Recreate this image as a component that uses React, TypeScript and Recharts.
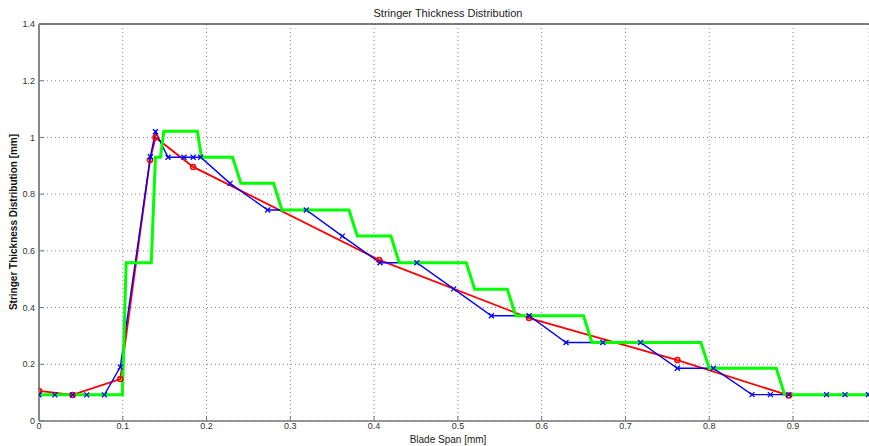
import React from 'react';
import { LineChart, Line, XAxis, YAxis, CartesianGrid } from 'recharts';

// red: interpolated distribution (circle markers)
const redX = [0, 0.04, 0.097, 0.1325, 0.139, 0.184, 0.406, 0.585, 0.762, 0.895];
const redY = [0.106, 0.092, 0.148, 0.92, 1.0, 0.896, 0.568, 0.363, 0.215, 0.09];

// blue: stringer values (x markers)
const blueX = [
  0, 0.019, 0.04, 0.057, 0.078, 0.097, 0.133, 0.139, 0.154, 0.173, 0.184, 0.193, 0.228, 0.273,
  0.319, 0.362, 0.407, 0.451, 0.495, 0.54, 0.585, 0.629, 0.673, 0.718, 0.762, 0.805, 0.851,
  0.873, 0.895, 0.94, 0.962, 0.99,
];
const blueY = [
  0.092, 0.092, 0.092, 0.092, 0.092, 0.19, 0.932, 1.02, 0.93, 0.93, 0.93, 0.93, 0.838, 0.744,
  0.744, 0.652, 0.558, 0.558, 0.466, 0.371, 0.371, 0.277, 0.277, 0.277, 0.186, 0.186, 0.093,
  0.093, 0.093, 0.093, 0.093, 0.093,
];

// green: ply-drop staircase
const greenX = [
  0, 0.0995, 0.104, 0.134, 0.139, 0.145, 0.149, 0.189, 0.194, 0.231, 0.241, 0.28, 0.29, 0.37,
  0.38, 0.42, 0.43, 0.51, 0.52, 0.559, 0.569, 0.65, 0.66, 0.79, 0.8, 0.88, 0.89, 0.99,
];
const greenY = [
  0.093, 0.093, 0.558, 0.558, 0.93, 0.93, 1.022, 1.022, 0.93, 0.93, 0.838, 0.838, 0.744, 0.744,
  0.652, 0.652, 0.558, 0.558, 0.465, 0.465, 0.371, 0.371, 0.277, 0.277, 0.186, 0.186, 0.093,
  0.093,
];

const xTicks = [0, 0.1, 0.2, 0.3, 0.4, 0.5, 0.6, 0.7, 0.8, 0.9];
const yTicks = [0, 0.2, 0.4, 0.6, 0.8, 1, 1.2, 1.4];

const toPts = (xs: number[], ys: number[]) => xs.map((x, i) => ({ x, y: ys[i] }));
const red = toPts(redX, redY);
const blue = toPts(blueX, blueY);
const green = toPts(greenX, greenY);

const CrossDot = (props: any) => {
  const { cx, cy } = props;
  if (cx == null || cy == null) return null;
  const s = 2.5;
  return (
    <g stroke="#0000ff" strokeWidth={1.3}>
      <line x1={cx - s} y1={cy - s} x2={cx + s} y2={cy + s} />
      <line x1={cx - s} y1={cy + s} x2={cx + s} y2={cy - s} />
    </g>
  );
};

const font = 'Liberation Sans, Arial, sans-serif';
const tickStyle = { fontSize: 9, fill: '#333', fontFamily: font };

export default function App() {
  return (
    <div style={{ position: 'absolute', left: 0, top: 0, width: 869, height: 446, background: '#fff' }}>
      <LineChart width={869} height={446} margin={{ top: 0, right: 0, bottom: 0, left: 0 }}>
        <CartesianGrid xAxisId="b" stroke="#888" strokeDasharray="1 3" />
        <XAxis
          xAxisId="b"
          type="number"
          dataKey="x"
          domain={[0, 0.9907]}
          allowDataOverflow
          ticks={xTicks}
          tickFormatter={(v) => String(v)}
          tick={tickStyle}
          tickSize={-5}
          tickMargin={7}
          height={25}
          axisLine={{ stroke: '#777', strokeWidth: 1.5 }}
          tickLine={{ stroke: '#777' }}
        />
        <XAxis
          xAxisId="t"
          orientation="top"
          type="number"
          dataKey="x"
          domain={[0, 0.9907]}
          allowDataOverflow
          ticks={xTicks}
          tick={false}
          tickSize={-5}
          height={24}
          axisLine={{ stroke: '#555', strokeWidth: 1.5 }}
          tickLine={{ stroke: '#777' }}
        />
        <YAxis
          type="number"
          domain={[0, 1.4]}
          ticks={yTicks}
          tickFormatter={(v) => String(v)}
          tick={tickStyle}
          tickSize={-5}
          tickMargin={9}
          width={39}
          axisLine={{ stroke: '#888', strokeWidth: 2 }}
          tickLine={{ stroke: '#777' }}
        />
        <Line
          xAxisId="b"
          data={red}
          dataKey="y"
          stroke="#ff0000"
          strokeWidth={1.8}
          dot={{ r: 2.5, stroke: '#ff0000', strokeWidth: 1.5, fill: 'none' }}
          isAnimationActive={false}
        />
        <Line
          xAxisId="b"
          data={blue}
          dataKey="y"
          stroke="#0000ff"
          strokeWidth={1.4}
          dot={<CrossDot />}
          isAnimationActive={false}
        />
        <Line
          xAxisId="b"
          data={green}
          dataKey="y"
          stroke="#00ff00"
          strokeWidth={3}
          dot={false}
          isAnimationActive={false}
        />
        <text x={448} y={17} textAnchor="middle" fontSize={11} fill="#222" fontFamily={font}>
          Stringer Thickness Distribution
        </text>
        <text x={448} y={443} textAnchor="middle" fontSize={10} fill="#222" fontFamily={font}>
          Blade Span [mm]
        </text>
        <text
          x={17}
          y={222}
          textAnchor="middle"
          fontSize={10}
          fontWeight="bold"
          fill="#111"
          fontFamily={font}
          transform="rotate(-90 17 222)"
        >
          Stringer Thickness Distribution [mm]
        </text>
      </LineChart>
    </div>
  );
}
